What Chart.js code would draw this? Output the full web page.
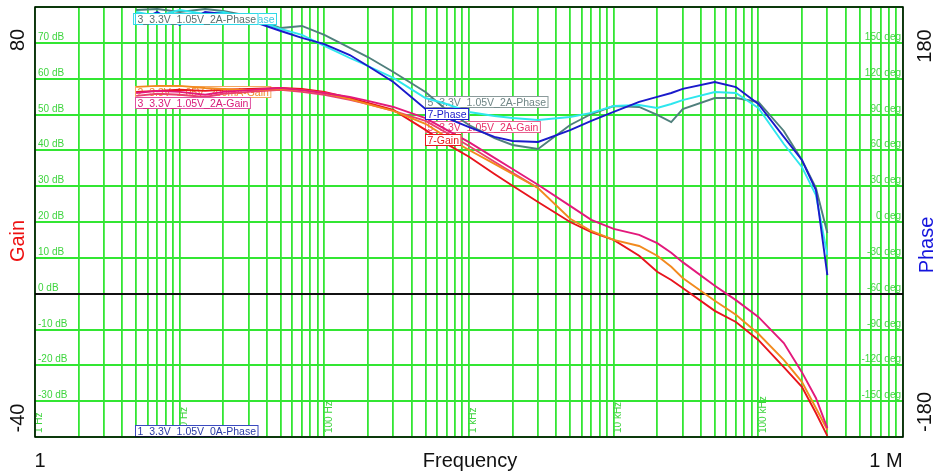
<!DOCTYPE html>
<html>
<head>
<meta charset="utf-8">
<script src="https://cdn.jsdelivr.net/npm/chart.js@4"></script>
<style>
  html, body { margin: 0; padding: 0; background: #ffffff; }
  canvas { display: block; }
</style>
</head>
<body>
<canvas id="c" width="942" height="476"></canvas>
<script>
// ---------------- data ----------------
const freqs = [5, 7, 10, 15, 20, 30, 50, 70, 100, 150, 200, 300, 500, 700,
  1000, 1500, 2000, 3000, 5000, 7000, 10000, 15000, 20000, 25000, 30000,
  50000, 70000, 100000, 150000, 200000, 250000, 300000];

// Gain (dB)
const gain3_2A = [56.0, 56.6, 56.3, 55.5, 56.3, 56.8, 57.4, 56.8, 56.0, 54.9, 53.8, 52.1, 49.0, 45.7,
  42.3, 37.9, 34.8, 30.4, 24.5, 20.6, 18.1, 16.4, 14.1, 11.4, 8.8,
  2.2, -1.8, -6.5, -13.8, -21.9, -29.1, -37.5];
const gain2_200mA = [57.7, 58.0, 58.0, 57.4, 57.1, 56.8, 57.1, 56.8, 56.0, 54.3, 52.9, 51.0, 47.4, 43.7,
  40.1, 36.2, 33.4, 29.5, 20.9, 17.5, 15.0, 13.3, 10.6, 7.5, 4.4,
  -2.0, -5.9, -11.2, -18.5, -24.6, -31.9, -38.0];
const gain7 = [56.3, 56.6, 56.9, 56.6, 56.9, 57.1, 57.4, 57.1, 56.3, 54.6, 53.2, 51.3, 45.7, 41.8,
  38.2, 33.4, 30.1, 25.6, 20.0, 17.2, 15.0, 10.6, 6.1, 3.8, 1.6,
  -4.8, -7.9, -12.9, -20.5, -26.0, -33.3, -39.7];
const gain5_2A = [55.2, 55.8, 55.5, 54.9, 55.8, 56.3, 56.9, 56.3, 55.5, 54.1, 52.9, 51.0, 48.2, 44.9,
  41.2, 36.8, 33.7, 29.5, null, null, null, null, null, null, null,
  null, null, null, null, null, null, null];

// Phase (deg)
const phase7 = [167.5, 175.8, 164.9, 175.8, 174.1, 169.1, 159.9, 154.1, 149.0, 139.8, 130.6, 117.2, 94.6, 87.1,
  79.5, 71.2, 67.8, 67.0, 77.0, 84.6, 92.1, 100.5, 104.7, 108.0, 111.4,
  117.2, 113.0, 98.8, 71.2, 51.9, 26.8, -44.4];
const phase3_2A = [175.8, 172.5, 177.5, 174.1, 175.8, 170.8, 161.6, 156.6, 147.4, 137.3, 130.6, 120.6, 103.8, 98.8,
  92.1, 88.8, 87.1, 85.4, 87.9, 91.3, 97.1, 98.0, 95.5, 98.8, 102.1,
  108.8, 108.0, 95.5, 65.3, 46.1, 22.6, -27.6];
const phase5_2A = [177.5, 178.3, 175.8, 178.3, 176.7, 172.5, 162.4, 164.1, 156.6, 145.7, 138.1, 125.6, 108.8, 93.8,
  81.2, 70.3, 64.5, 61.1, 81.2, 90.4, 97.1, 96.3, 89.6, 83.7, 94.6,
  103.8, 103.8, 100.5, 76.2, 51.9, 28.5, -9.2];
const phase1_0A = [-177, -174, -178, -175, null, null, null, null, null, null, null, null, null, null,
  null, null, null, null, null, null, null, null, null, null, null,
  null, null, null, null, null, null, null];

// axis tick labels
const gainTicks = [70, 60, 50, 40, 30, 20, 10, 0, -10, -20, -30];
const phaseTicks = [150, 120, 90, 60, 30, 0, -30, -60, -90, -120, -150];
const freqDecades = [1, 10, 100, 1000, 10000, 100000];
const freqDecadeLabels = ['1 Hz', '10 Hz', '100 Hz', '1 kHz', '10 kHz', '100 kHz'];
const gridFreqs = [];
for (let d = 1; d < 1e6; d *= 10) for (let m = 1; m <= 9; m++) gridFreqs.push(m * d);
gridFreqs.push(1e6);

// ---------------- styling ----------------
const GREEN = '#33e633';
const GREEN_TXT = '#3fd53f';
const FONT = '"Liberation Sans", Arial, sans-serif';

function series(vals) { return freqs.map((f, i) => ({ x: f, y: vals[i] })); }

const labelsUnder = [
  { text: '2_3.3V_1.05V_200mA-Gain', x: 135, y: 86, color: '#f08a2a', border: '#f4a860' },
  { text: '5_3.3V_1.05V_2A-Phase', x: 425, y: 96, color: '#6f8585', border: '#8a9a9a' },
  { text: '5_3.3V_1.05V_2A-Gain', x: 425, y: 121, color: '#e8306a', border: '#e86090' },
];
const labelsOver = [
  { text: '2_3.3V_1.05V_200mA-Phase', right: 277, y: 13, color: '#40c8e0', border: '#30d8e8' },
  { text: '3_3.3V_1.05V_2A-Phase', x: 135, y: 13, color: '#5a6e6e', border: '#30d8e8' },
  { text: '3_3.3V_1.05V_2A-Gain', x: 135, y: 97, color: '#d81b7a', border: '#e050a0' },
  { text: '7-Phase', x: 425, y: 108, color: '#1a1acb', border: '#1a1acb' },
  { text: '7-Gain', x: 425, y: 134, color: '#e8141c', border: '#e8141c' },
  { text: '1_3.3V_1.05V_0A-Phase', x: 135, y: 425, color: '#2a3aa8', border: '#3a4ac0' },
];

function drawLabel(ctx, l) {
  ctx.save();
  ctx.font = '10.5px ' + FONT;
  const w = ctx.measureText(l.text).width + 5;
  const h = 12;
  const x = (l.right !== undefined) ? l.right - w : l.x;
  ctx.fillStyle = '#ffffff';
  ctx.fillRect(x, l.y, w, h);
  ctx.strokeStyle = l.border;
  ctx.lineWidth = 1;
  ctx.strokeRect(x + 0.5, l.y + 0.5, w - 1, h - 1);
  ctx.fillStyle = l.color;
  ctx.textBaseline = 'alphabetic';
  ctx.textAlign = 'left';
  ctx.fillText(l.text, x + 2.5, l.y + h - 2.5);
  ctx.restore();
}

const deco = {
  id: 'deco',
  beforeDatasetsDraw(chart) {
    const ctx = chart.ctx, a = chart.chartArea;
    const sy = chart.scales.y, sy2 = chart.scales.y2, sx = chart.scales.x;
    ctx.save();
    ctx.font = '10px ' + FONT;
    ctx.fillStyle = GREEN_TXT;
    ctx.textBaseline = 'alphabetic';
    ctx.textAlign = 'left';
    gainTicks.forEach(v => ctx.fillText(v + ' dB', a.left + 3, sy.getPixelForValue(v) - 3));
    ctx.textAlign = 'right';
    phaseTicks.forEach(v => ctx.fillText(v + ' deg', a.right - 2, sy2.getPixelForValue(v) - 3));
    freqDecades.forEach((f, i) => {
      ctx.save();
      ctx.translate(sx.getPixelForValue(f) + 4.5, a.bottom - 4);
      ctx.rotate(-Math.PI / 2);
      ctx.textAlign = 'left';
      ctx.textBaseline = 'middle';
      ctx.fillText(freqDecadeLabels[i], 0, 0);
      ctx.restore();
    });
    ctx.restore();
    labelsUnder.forEach(l => drawLabel(ctx, l));
  },
  afterDatasetsDraw(chart) {
    const ctx = chart.ctx, a = chart.chartArea;
    labelsOver.forEach(l => drawLabel(ctx, l));
    ctx.save();
    // frame
    ctx.strokeStyle = '#000000';
    ctx.lineWidth = 1.5;
    ctx.strokeRect(a.left, a.top, a.right - a.left, a.bottom - a.top);
    // outer texts
    ctx.font = '20px ' + FONT;
    const vtext = (t, x, y, color) => {
      ctx.save();
      ctx.translate(x, y);
      ctx.rotate(-Math.PI / 2);
      ctx.fillStyle = color;
      ctx.textAlign = 'center';
      ctx.textBaseline = 'middle';
      ctx.fillText(t, 0, 0);
      ctx.restore();
    };
    vtext('80', 18, a.top + 33, '#111111');
    vtext('-40', 18, a.bottom - 19, '#111111');
    vtext('Gain', 18, 241, '#ee1111');
    vtext('180', 925, a.top + 39, '#111111');
    vtext('-180', 925, a.bottom - 25, '#111111');
    vtext('Phase', 927, 245, '#1414dd');
    ctx.fillStyle = '#111111';
    ctx.textBaseline = 'middle';
    ctx.textAlign = 'center';
    ctx.fillText('1', 40, 461);
    ctx.fillText('Frequency', 470, 461);
    ctx.fillText('1 M', 886, 461);
    ctx.restore();
  }
};

const gainDs = (label, vals, color) => ({ label, data: series(vals), borderColor: color, yAxisID: 'y', borderWidth: 1.9 });
const phaseDs = (label, vals, color) => ({ label, data: series(vals), borderColor: color, yAxisID: 'y2', borderWidth: 1.9 });

new Chart(document.getElementById('c'), {
  type: 'line',
  data: {
    datasets: [
      gainDs('3_3.3V_1.05V_2A-Gain', gain3_2A, '#e3197b'),
      gainDs('2_3.3V_1.05V_200mA-Gain', gain2_200mA, '#f28a1e'),
      gainDs('7-Gain', gain7, '#e8141c'),
      gainDs('5_3.3V_1.05V_2A-Gain', gain5_2A, '#ea3f6e'),
      phaseDs('7-Phase', phase7, '#1a1acb'),
      phaseDs('3_3.3V_1.05V_2A-Phase', phase3_2A, '#2ee6ee'),
      phaseDs('5_3.3V_1.05V_2A-Phase', phase5_2A, '#4f7f7c'),
      phaseDs('1_3.3V_1.05V_0A-Phase', phase1_0A, '#3c8fd8'),
    ]
  },
  options: {
    responsive: false,
    animation: false,
    devicePixelRatio: 1,
    layout: { padding: { top: 7, left: 0, right: 0, bottom: 0 } },
    plugins: { legend: { display: false }, tooltip: { enabled: false } },
    elements: { point: { radius: 0 }, line: { tension: 0 } },
    scales: {
      x: {
        type: 'logarithmic', min: 1, max: 1e6, position: 'bottom',
        ticks: { display: false },
        grid: { color: GREEN, lineWidth: 1.8, drawTicks: false },
        border: { display: false },
        afterBuildTicks(s) { s.ticks = gridFreqs.map(v => ({ value: v })); },
        afterFit(s) { s.height = 39; }
      },
      y: {
        type: 'linear', min: -40, max: 80, position: 'left',
        ticks: { display: false, stepSize: 10 },
        grid: { color: c => (c.tick && c.tick.value === 0 ? '#111111' : GREEN), lineWidth: 1.9, drawTicks: false },
        border: { display: false },
        afterFit(s) { s.width = 35; }
      },
      y2: {
        type: 'linear', min: -180, max: 180, position: 'right',
        ticks: { display: false },
        grid: { display: false, drawTicks: false },
        border: { display: false },
        afterFit(s) { s.width = 39; }
      }
    }
  },
  plugins: [deco]
});
</script>
</body>
</html>
